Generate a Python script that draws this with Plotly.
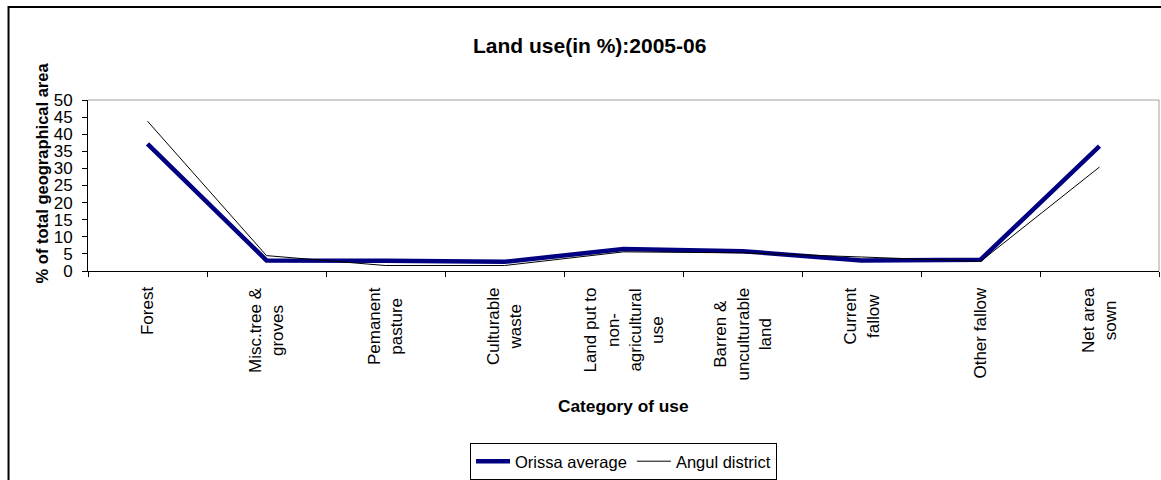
import plotly.graph_objects as go

categories = ["Forest", "Misc.tree &<br>groves", "Pemanent<br>pasture", "Culturable<br>waste",
              "Land put to<br>non-<br>agricultural<br>use", "Barren &<br>unculturable<br>land",
              "Current<br>fallow", "Other fallow", "Net area<br>sown"]
orissa_average = [37.2, 3.1, 3.0, 2.7, 6.4, 5.8, 3.1, 3.3, 36.5]
angul_district = [43.8, 4.5, 1.6, 1.6, 5.6, 5.3, 4.1, 2.8, 30.4]
y_ticks = [0, 5, 10, 15, 20, 25, 30, 35, 40, 45, 50]

FONT = "Liberation Sans, Arial, sans-serif"
x_idx = list(range(len(categories)))

fig = go.Figure()
fig.add_trace(go.Scatter(x=x_idx, y=orissa_average, mode="lines", name="Orissa average",
                         line=dict(color="#000080", width=4.5)))
fig.add_trace(go.Scatter(x=x_idx, y=angul_district, mode="lines", name="Angul district",
                         line=dict(color="#000000", width=1)))

annotations = []
for i, c in enumerate(categories):
    annotations.append(dict(x=i, y=-0.085, xref="x", yref="paper", text=c, showarrow=False,
                            textangle=-90, xanchor="center", yanchor="top", align="center",
                            font=dict(family=FONT, size=17, color="black")))
annotations.append(dict(x=0.468, y=1.32, xref="paper", yref="paper", text="<b>Land use(in %):2005-06</b>",
                        showarrow=False, xanchor="center", yanchor="middle",
                        font=dict(family=FONT, size=21, color="black")))
annotations.append(dict(x=-0.043, y=0.576, xref="paper", yref="paper", text="<b>% of total geographical area</b>",
                        showarrow=False, textangle=-90, xanchor="center", yanchor="middle",
                        font=dict(family=FONT, size=16.5, color="black")))
annotations.append(dict(x=0.5, y=-0.79, xref="paper", yref="paper", text="<b>Category of use</b>",
                        showarrow=False, xanchor="center", yanchor="middle",
                        font=dict(family=FONT, size=17.3, color="black")))

fig.update_layout(
    width=1161, height=480,
    margin=dict(l=88, r=2, t=100, b=208),
    paper_bgcolor="white", plot_bgcolor="white",
    font=dict(family=FONT, size=16, color="black"),
    showlegend=True,
    legend=dict(orientation="h", x=0.5, xanchor="center", y=-0.994, yanchor="top",
                bordercolor="black", borderwidth=1, font=dict(family=FONT, size=16.5),
                itemwidth=34, tracegroupgap=0),
    annotations=annotations,
    shapes=[
        dict(type="line", xref="paper", yref="paper", x0=0, x1=1, y0=1, y1=1,
             line=dict(color="#a0a0a0", width=1)),
        dict(type="line", xref="paper", yref="paper", x0=1, x1=1, y0=0, y1=1,
             line=dict(color="#a0a0a0", width=1)),
        dict(type="rect", xref="paper", yref="paper", x0=-0.0742, x1=1.05, y0=-2, y1=1.5436,
             line=dict(color="black", width=2), layer="above"),
    ],
)
fig.update_xaxes(type="linear", range=[-0.5, len(categories) - 0.5],
                 tickvals=[i - 0.5 for i in range(len(categories) + 1)], showticklabels=False,
                 ticks="outside", ticklen=5, tickcolor="black", showgrid=False, zeroline=False,
                 showline=True, linecolor="black", linewidth=1)
fig.update_yaxes(range=[0, 50], tickvals=y_ticks, ticks="outside", ticklen=5, tickcolor="black",
                 showgrid=False, zeroline=False, showline=True, linecolor="black", linewidth=1,
                 tickfont=dict(family=FONT, size=17), ticklabelstandoff=6)

fig.write_html("out.html", config={"displayModeBar": False},
               post_script="document.body.style.margin='0';document.body.style.overflow='hidden';")
